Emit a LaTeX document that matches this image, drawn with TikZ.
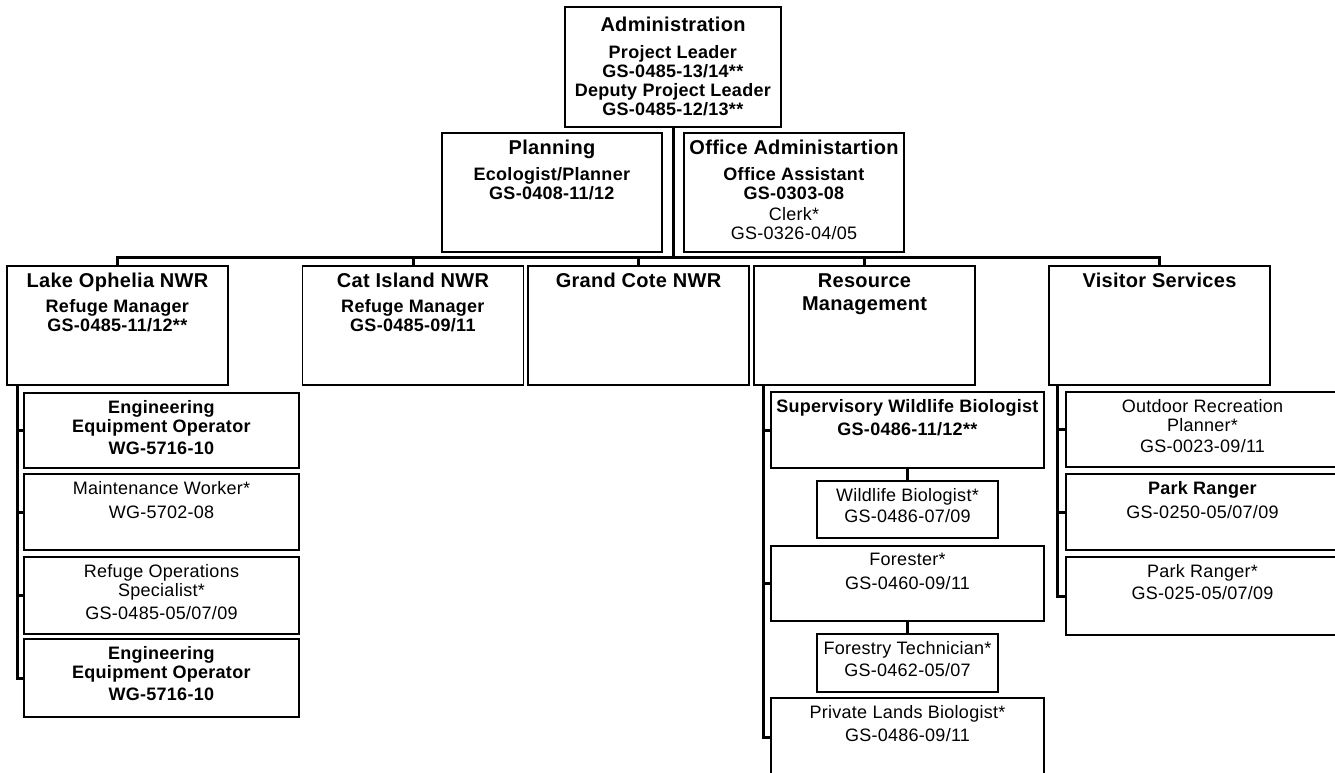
\documentclass[tikz,border=0pt]{standalone}
\usepackage{fontspec}
\setmainfont{Liberation Sans}[LetterSpace=1.5]
\usepackage{tikz}
\newcommand\unitname[1]{{\fontsize{20pt}{22pt}\selectfont\bfseries #1}}
\tikzset{%
            base/.style = {rectangle, draw=black, line width=1.6pt,
                           inner sep=0pt, minimum width=221pt, minimum height=119pt},
  box0/.style = {base},
  box1/.style = {base, minimum width=275pt},
  box2/.style = {base, minimum width=273pt},
  box3/.style = {base, minimum width=181pt},
   txt/.style = {anchor=north, align=center, inner xsep=0pt, inner ysep=8pt,
                 font=\fontsize{18pt}{19pt}\selectfont},
   lbl/.style = {label={[txt]north:{#1}}},
  conn/.style = {draw=black, line width=3pt},
}

\begin{document}
\begin{tikzpicture}[x=1pt, y=-1pt]
  \useasboundingbox (0,0) rectangle (1335,773);
  \clip (0,0) rectangle (1335,773);

  % top and staff
  \node (onADM) [box0, minimum width=216pt, minimum height=120pt,
    label={[txt, yshift=-3pt]north:{\unitname{Administration}\\[8pt]\textbf{Project Leader}\\\textbf{GS-0485-13/14**}\\\textbf{Deputy Project Leader}\\\textbf{GS-0485-12/13**}}}] at (673,67) {};
  \node (onPLN) [box0, minimum width=220pt,
    lbl={\unitname{Planning}\\[7pt]\textbf{Ecologist/Planner}\\\textbf{GS-0408-11/12}}] at (552,192.5) {};
  \node (onOFF) [box0, minimum width=220pt,
    lbl={\unitname{Office Administartion}\\[7pt]\textbf{Office Assistant}\\\textbf{GS-0303-08}\\[2pt]Clerk*\\GS-0326-04/05}] at (794,192.5) {};

  % units
  \node (onLON) [box0, lbl={\unitname{Lake Ophelia NWR}\\[6pt]\textbf{Refuge Manager}\\\textbf{GS-0485-11/12**}}] at (117.5,325.5) {};
  \node (onCAT) [box0, lbl={\unitname{Cat Island NWR}\\[6pt]\textbf{Refuge Manager}\\\textbf{GS-0485-09/11}}] at (413,325.5) {};
  \node (onGRC) [box0, lbl={\unitname{Grand Cote NWR}}] at (638.5,325.5) {};
  \node (onRES) [box0, lbl={\unitname{Resource}\\[4pt]\unitname{Management}}] at (864.5,325.5) {};
  \node (onVIS) [box0, lbl={\unitname{Visitor Services}}] at (1159.5,325.5) {};

  % Lake Ophelia staff
  \node (onLO1) [box1, minimum height=75pt, lbl={\textbf{Engineering}\\\textbf{Equipment Operator}\\[3pt]\textbf{WG-5716-10}}] at (161.5,430.5) {};
  \node (onLO2) [box1, minimum height=76pt, lbl={Maintenance Worker*\\[5pt]WG-5702-08}] at (161.5,512) {};
  \node (onLO3) [box1, minimum height=77pt, lbl={Refuge Operations\\Specialist*\\[4pt]GS-0485-05/07/09}] at (161.5,595.5) {};
  \node (onLO4) [box1, minimum height=78pt, lbl={\textbf{Engineering}\\\textbf{Equipment Operator}\\[3pt]\textbf{WG-5716-10}}] at (161.5,678) {};

  % Resource Management staff
  \node (onRM1) [box2, minimum height=76pt, lbl={\textbf{Supervisory Wildlife Biologist}\\[4pt]\textbf{GS-0486-11/12**}}] at (907.5,430) {};
  \node (onRM2) [box3, minimum height=57pt, lbl={Wildlife Biologist*\\[2pt]GS-0486-07/09}] at (907.5,509.5) {};
  \node (onRM3) [box2, minimum height=75pt, lbl={Forester*\\[5pt]GS-0460-09/11}] at (907.5,583.5) {};
  \node (onRM4) [box3, minimum height=58pt, lbl={Forestry Technician*\\[3pt]GS-0462-05/07}] at (907.5,663) {};
  \node (onRM5) [box2, minimum height=78pt, lbl={Private Lands Biologist*\\[4pt]GS-0486-09/11}] at (907.5,737) {};

  % Visitor Services staff
  \node (onVS1) [box2, minimum height=75pt, lbl={Outdoor Recreation\\Planner*\\[2pt]GS-0023-09/11}] at (1202.5,429.5) {};
  \node (onVS2) [box2, minimum height=76pt, lbl={\textbf{Park Ranger}\\[5pt]GS-0250-05/07/09}] at (1202.5,512) {};
  \node (onVS3) [box2, minimum height=78pt, lbl={Park Ranger*\\[3pt]GS-025-05/07/09}] at (1202.5,596) {};

  % lines
  \coordinate (busC) at (673,257);
  \coordinate (loT)  at (17,385);
  \coordinate (rmT)  at (763,385);
  \coordinate (vsT)  at (1057,385);

  \draw[conn] (onADM.south) -- (busC);
  \draw[black, line width=2.5pt, dash pattern=on 2pt off 8pt, shorten <=10pt] (onPLN.east) -- (onOFF.west);
  \foreach \n in {onLON,onCAT,onGRC,onRES,onVIS}
    \draw[conn] (busC) -| (\n.north);
  \foreach \n in {onLO1,onLO2,onLO3,onLO4}
    \draw[conn] (loT) |- (\n.west);
  \foreach \n in {onRM1,onRM3,onRM5}
    \draw[conn] (rmT) |- (\n.west);
  \foreach \n in {onVS1,onVS2,onVS3}
    \draw[conn] (vsT) |- (\n.west);
  \draw[conn] (onRM1.south) -- (onRM2.north);
  \draw[conn] (onRM3.south) -- (onRM4.north);
\end{tikzpicture}
\end{document}
